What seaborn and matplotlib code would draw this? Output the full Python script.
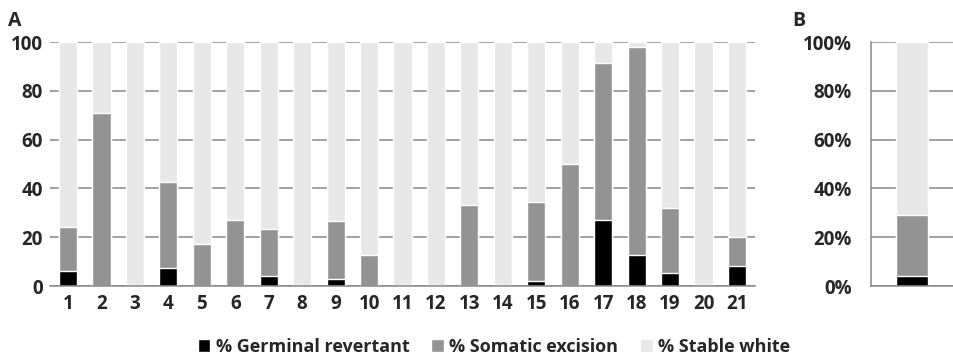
import matplotlib
matplotlib.use("Agg")
from matplotlib import pyplot as plt
import pandas as pd
import seaborn as sns
import numpy as np

# Data (percent per line)
lines = [str(i) for i in range(1, 22)]
germinal = [6.0, 0, 0, 7.3, 0, 0, 4.0, 0, 2.7, 0, 0, 0, 0, 0, 2.0, 0,
            27.1, 12.7, 5.2, 0, 8.3]
somatic = [18.0, 70.7, 0, 35.4, 17.1, 27.1, 19.3, 0, 23.8, 12.7, 0, 0,
           33.4, 0, 32.6, 50.2, 64.3, 85.4, 26.9, 0, 11.7]
stable = [100 - g - s for g, s in zip(germinal, somatic)]

# panel B: pooled proportions
pooled_germinal = [4.0]
pooled_somatic = [24.9]
pooled_stable = [100 - pooled_germinal[0] - pooled_somatic[0]]

series_names = ["% Germinal revertant", "% Somatic excision", "% Stable white"]
colors = ["#000000", "#939393", "#e8e8e8"]
grid_col = "#878787"

sns.set_style("white")
plt.rcParams["font.family"] = ["Open Sans", "DejaVu Sans"]
plt.rcParams["font.weight"] = "bold"


def stacked(ax, cats, g, s, w, width):
    # cumulative tops, drawn from the highest layer down
    df = pd.DataFrame({"cat": cats, "g": g, "s": s, "w": w})
    df["top_s"] = df["g"] + df["s"]
    df["top_w"] = df["top_s"] + df["w"]
    for col, c, lab in zip(["top_w", "top_s", "g"], colors[::-1],
                           series_names[::-1]):
        sns.barplot(data=df, x="cat", y=col, color=c, width=width,
                    saturation=1, ax=ax, label=lab, zorder=2)
    handles, labels = ax.get_legend_handles_labels()
    if ax.get_legend() is not None:
        ax.get_legend().remove()
    ax.set(xlabel=None, ylabel=None, ylim=(0, 100))
    ax.set_yticks(np.arange(0, 101, 20))
    ax.set_axisbelow(True)
    ax.grid(axis="y", color=grid_col, linewidth=1.1)
    ax.grid(axis="x", visible=False)
    for sp in ["top", "right", "left"]:
        ax.spines[sp].set_visible(False)
    ax.spines["bottom"].set_color(grid_col)
    ax.spines["bottom"].set_linewidth(1.1)
    ax.spines["bottom"].set_zorder(3)
    return handles, labels


fig = plt.figure(figsize=(9.54, 3.62), dpi=100)
ax_a = fig.add_axes([50 / 954, 76 / 362, 705 / 954, 244 / 362])
ax_b = fig.add_axes([871 / 954, 76 / 362, 82 / 954, 244 / 362])

handles, labels = stacked(ax_a, lines, germinal, somatic, stable, 0.54)
ax_a.set_xlim(-0.54, 20.54)
ax_a.tick_params(axis="both", length=0, labelsize=13.5)
ax_a.tick_params(axis="y", pad=5)
ax_a.tick_params(axis="x", pad=6)

stacked(ax_b, [""], pooled_germinal, pooled_somatic, pooled_stable, 0.5)
ax_b.set_xlim(-0.646, 0.651)
ax_b.set_xticks([])
ax_b.spines["left"].set_visible(True)
ax_b.spines["left"].set_color(grid_col)
ax_b.spines["left"].set_linewidth(1.1)
ax_b.set_yticklabels([f"{v}%" for v in range(0, 101, 20)])
ax_b.tick_params(axis="y", length=6, width=1.1, color=grid_col,
                 labelsize=13.5, pad=8)

fig.text(8 / 954, 1 - 21 / 362, "A", fontsize=14, fontweight="bold",
         va="center", ha="left")
fig.text(792 / 954, 1 - 21 / 362, "B", fontsize=14, fontweight="bold",
         va="center", ha="left")

order = [labels.index(n) for n in series_names]
fig.legend([handles[i] for i in order], [labels[i] for i in order],
           loc="center", bbox_to_anchor=(494 / 954, 1 - 347 / 362),
           ncol=3, frameon=False, fontsize=13, handlelength=0.7,
           handleheight=0.7, handletextpad=0.3, columnspacing=1.2,
           borderaxespad=0)

fig.savefig("out.png", dpi=100)
